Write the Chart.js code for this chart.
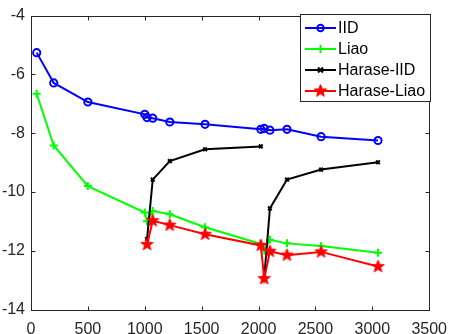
<!DOCTYPE html>
<html>
<head>
<meta charset="utf-8">
<script src="https://cdn.jsdelivr.net/npm/chart.js@4.4.1/dist/chart.umd.min.js"></script>
<style>
html,body{margin:0;padding:0;background:#fff;}
#wrap{width:457px;height:334px;position:relative;}
</style>
</head>
<body>
<div id="wrap"><canvas id="c" width="457" height="334"></canvas></div>
<script>
// ---- data ----
const N = [50, 200, 500, 1000, 1020, 1070, 1220, 1530, 2020, 2050, 2100, 2250, 2550, 3050];
const iid  = [-5.26, -6.29, -6.94, -7.36, -7.47, -7.49, -7.62, -7.70, -7.87, -7.84, -7.90, -7.87, -8.12, -8.25];
const liao = [-6.66, -8.42, -9.80, -10.70, -11.00, -10.65, -10.76, -11.20, -11.77, -11.99, -11.63, -11.75, -11.84, -12.07];
const hIID_N1 = [1020, 1070, 1220, 1530, 2020];
const hIID_1  = [-11.60, -9.58, -8.95, -8.55, -8.45];
const hIID_N2 = [2050, 2100, 2250, 2550, 3050];
const hIID_2  = [-12.92, -10.56, -9.58, -9.24, -8.99];
const hLiao_N = [1020, 1070, 1220, 1530, 2020, 2050, 2100, 2250, 2550, 3050];
const hLiao   = [-11.79, -10.98, -11.13, -11.44, -11.82, -12.95, -12.02, -12.15, -12.04, -12.54];
const legendLabels = ['IID', 'Liao', 'Harase-IID', 'Harase-Liao'];
const xTicks = [0, 500, 1000, 1500, 2000, 2500, 3000, 3500];
const yTicks = [-14, -12, -10, -8, -6, -4];

const pts = (xs, ys) => xs.map((x, i) => ({x: x, y: ys[i]}));

// filled pentagram marker
function starImg(color, r) {
  const s = Math.ceil(r * 2 + 2);
  const cv = document.createElement('canvas');
  cv.width = s; cv.height = s;
  const g = cv.getContext('2d');
  g.beginPath();
  for (let i = 0; i < 10; i++) {
    const rr = i % 2 === 0 ? r : r * 0.42;
    const a = -Math.PI / 2 + i * Math.PI / 5;
    const px = s / 2 + rr * Math.cos(a), py = s / 2 + rr * Math.sin(a);
    if (i === 0) g.moveTo(px, py); else g.lineTo(px, py);
  }
  g.closePath();
  g.fillStyle = color; g.fill();
  g.lineWidth = 1; g.strokeStyle = color; g.stroke();
  return cv;
}
const star = starImg('#ff0000', 6.5);

const FONT = "'Liberation Sans', Arial, sans-serif";
const AX = '#262626';

const frame = {
  id: 'frame',
  afterDraw(chart) {
    const ctx = chart.ctx, a = chart.chartArea;
    const xs = chart.scales.x, ys = chart.scales.y;
    const L = Math.round(a.left) + 0.5, R = Math.round(a.right) + 0.5;
    const T = Math.round(a.top) + 0.5, B = Math.round(a.bottom) + 0.5;
    ctx.save();
    ctx.strokeStyle = AX; ctx.lineWidth = 1;
    ctx.strokeRect(L, T, R - L, B - T);
    ctx.beginPath();
    xTicks.forEach(v => {
      const p = Math.round(xs.getPixelForValue(v)) + 0.5;
      ctx.moveTo(p, B); ctx.lineTo(p, B - 4);
      ctx.moveTo(p, T); ctx.lineTo(p, T + 4);
    });
    yTicks.forEach(v => {
      const p = Math.round(ys.getPixelForValue(v)) + 0.5;
      ctx.moveTo(L, p); ctx.lineTo(L + 4, p);
      ctx.moveTo(R, p); ctx.lineTo(R - 4, p);
    });
    ctx.stroke();

    // legend
    const bx = 300.5, by = 14.5, bw = 130, bh = 87;
    ctx.fillStyle = '#fff';
    ctx.fillRect(bx, by, bw, bh);
    ctx.strokeStyle = AX;
    ctx.strokeRect(bx, by, bw, bh);
    const rows = [0, 1, 2, 4];
    ctx.font = '16px ' + FONT;
    ctx.textBaseline = 'middle';
    ctx.textAlign = 'left';
    legendLabels.forEach((lab, i) => {
      const ds = chart.data.datasets[rows[i]];
      const y = 28 + i * 21;
      ctx.strokeStyle = ds.borderColor; ctx.lineWidth = 2;
      ctx.beginPath(); ctx.moveTo(305, y); ctx.lineTo(336, y); ctx.stroke();
      const cx = 320.5;
      if (i === 0) {
        ctx.beginPath(); ctx.arc(cx, y, 3.2, 0, Math.PI * 2); ctx.stroke();
      } else if (i === 1) {
        ctx.beginPath(); ctx.moveTo(cx - 4, y); ctx.lineTo(cx + 4, y);
        ctx.moveTo(cx, y - 4); ctx.lineTo(cx, y + 4); ctx.stroke();
      } else if (i === 2) {
        ctx.beginPath(); ctx.moveTo(cx - 2.5, y - 2.5); ctx.lineTo(cx + 2.5, y + 2.5);
        ctx.moveTo(cx + 2.5, y - 2.5); ctx.lineTo(cx - 2.5, y + 2.5); ctx.stroke();
      } else {
        ctx.drawImage(star, cx - star.width / 2, y - star.height / 2);
      }
      ctx.fillStyle = '#000';
      ctx.fillText(lab, 338, y + 1);
    });
    ctx.restore();
  }
};

new Chart(document.getElementById('c'), {
  type: 'line',
  data: {
    datasets: [
      {label: 'IID', data: pts(N, iid), borderColor: '#0000ff', backgroundColor: 'rgba(0,0,0,0)',
       borderWidth: 2, pointStyle: 'circle', pointRadius: 3.6, pointBorderWidth: 2, order: 4},
      {label: 'Liao', data: pts(N, liao), borderColor: '#00ff00', backgroundColor: '#00ff00',
       borderWidth: 2, pointStyle: 'cross', pointRadius: 4, pointBorderWidth: 2, order: 3},
      {label: 'Harase-IID', data: pts(hIID_N1, hIID_1), borderColor: '#000000', backgroundColor: '#000',
       borderWidth: 2, pointStyle: 'crossRot', pointRadius: 2.6, pointBorderWidth: 2, order: 2},
      {label: 'Harase-IID', data: pts(hIID_N2, hIID_2), borderColor: '#000000', backgroundColor: '#000',
       borderWidth: 2, pointStyle: 'crossRot', pointRadius: 2.6, pointBorderWidth: 2, order: 2},
      {label: 'Harase-Liao', data: pts(hLiao_N, hLiao), borderColor: '#ff0000', backgroundColor: '#ff0000',
       borderWidth: 2, pointStyle: star, pointRadius: 6, order: 1}
    ]
  },
  options: {
    responsive: false,
    animation: false,
    events: [],
    layout: {padding: {top: 5, right: 19, left: 0, bottom: 0}},
    plugins: {legend: {display: false}, tooltip: {enabled: false}},
    elements: {line: {tension: 0}},
    scales: {
      x: {
        type: 'linear', min: 0, max: 3500,
        afterBuildTicks: s => { s.ticks = xTicks.map(v => ({value: v})); },
        afterFit: s => { s.height = 24.5; },
        grid: {display: false, drawTicks: false},
        border: {display: false},
        ticks: {color: AX, font: {family: FONT, size: 16}, padding: 10, maxRotation: 0, autoSkip: false,
                callback: v => String(v)}
      },
      y: {
        type: 'linear', min: -14, max: -4,
        afterBuildTicks: s => { s.ticks = yTicks.map(v => ({value: v})); },
        afterFit: s => { s.width = 31; },
        grid: {display: false, drawTicks: false},
        border: {display: false},
        ticks: {color: AX, font: {family: FONT, size: 16}, padding: 6, autoSkip: false,
                callback: v => String(v)}
      }
    }
  },
  plugins: [frame]
});
</script>
</body>
</html>
